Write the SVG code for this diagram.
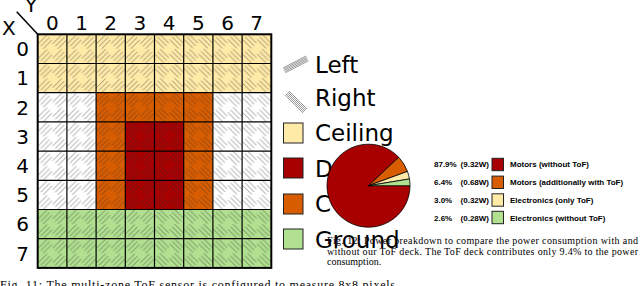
<svg xmlns="http://www.w3.org/2000/svg" width="640" height="286" viewBox="0 0 640 286">
<style>
.lab{font-family:"DejaVu Sans",sans-serif;font-size:20px;fill:#000}
.leg{font-family:"DejaVu Sans",sans-serif;font-size:23px;fill:#000}
.pl{font-family:"Liberation Sans",Arial,sans-serif;font-size:8px;font-weight:bold;fill:#000}
.cap{font-family:"Liberation Serif","Times New Roman",serif;fill:#000}
.grid{stroke:#000;stroke-width:1.2;fill:none}
.hi{stroke:#555;stroke-width:0.6}
.box{stroke:#222;stroke-width:1}
.pie{stroke:#000;stroke-width:0.8;stroke-linejoin:round}
</style>
<defs>
<pattern id="hl" patternUnits="userSpaceOnUse" x="37.7" y="34.3" width="14.6" height="14.6">
<path d="M0.5,9.5L9.5,0.5M3,12L12,3M5.5,14.5L14.5,5.5" stroke="#333" stroke-width="0.5"/>
</pattern>
<pattern id="hr" patternUnits="userSpaceOnUse" x="37.7" y="34.3" width="14.6" height="14.6">
<path d="M0.5,5.1L9.5,14.1M3,2.6L12,11.6M5.5,0.1L14.5,9.1" stroke="#333" stroke-width="0.5"/>
</pattern>
</defs>
<rect width="640" height="286" fill="#fff"/>

<g id="grid">
<rect x="37.7" y="34.3" width="233.6" height="58.4" fill="#ffeaa8"/>
<rect x="37.7" y="209.5" width="233.6" height="58.4" fill="#b0e090"/>
<rect x="96.1" y="92.7" width="116.8" height="116.8" fill="#d85c00"/>
<rect x="125.3" y="121.9" width="58.4" height="87.6" fill="#a80000"/>
<rect x="37.7" y="34.3" width="116.8" height="233.6" fill="url(#hl)"/>
<rect x="154.5" y="34.3" width="116.8" height="233.6" fill="url(#hr)"/>
<path class="grid" d="M66.9,34.3V267.9M96.1,34.3V267.9M125.3,34.3V267.9M154.5,34.3V267.9M183.7,34.3V267.9M212.9,34.3V267.9M242.1,34.3V267.9M37.7,63.5H271.3M37.7,92.7H271.3M37.7,121.9H271.3M37.7,151.1H271.3M37.7,180.3H271.3M37.7,209.5H271.3M37.7,238.7H271.3"/>
<rect x="37.7" y="34.3" width="233.6" height="233.6" fill="none" stroke="#000" stroke-width="2"/>
</g>

<g id="axes">
<line x1="16.7" y1="11.7" x2="37.7" y2="34.3" stroke="#000" stroke-width="1.5"/>
<text class="lab" x="2" y="35">X</text>
<text class="lab" x="25" y="12">Y</text>
<g text-anchor="middle">
<text class="lab" x="52.3" y="29.5">0</text>
<text class="lab" x="81.5" y="29.5">1</text>
<text class="lab" x="110.7" y="29.5">2</text>
<text class="lab" x="139.9" y="29.5">3</text>
<text class="lab" x="169.1" y="29.5">4</text>
<text class="lab" x="198.3" y="29.5">5</text>
<text class="lab" x="227.5" y="29.5">6</text>
<text class="lab" x="256.7" y="29.5">7</text>
<text class="lab" x="22.6" y="56.2">0</text>
<text class="lab" x="22.6" y="85.4">1</text>
<text class="lab" x="22.6" y="114.6">2</text>
<text class="lab" x="22.6" y="143.8">3</text>
<text class="lab" x="22.6" y="173">4</text>
<text class="lab" x="22.6" y="202.2">5</text>
<text class="lab" x="22.6" y="231.4">6</text>
<text class="lab" x="22.6" y="260.6">7</text>
</g>
</g>

<g id="legend">
<path class="hi" d="M283,68L306,56M283.6,69.2L306.6,57.2M284.2,70.4L307.2,58.4M284.8,71.6L307.8,59.6M285.4,72.8L308.4,60.8"/>
<path class="hi" d="M285,95L303,113M286,94L304,112M287,93L305,111M288,92L306,110M289,91L307,109"/>
<rect class="box" x="283.5" y="123" width="19.5" height="20" fill="#ffeaa8"/>
<rect class="box" x="283.5" y="158" width="19.5" height="20" fill="#a80000"/>
<rect class="box" x="283.5" y="194" width="19.5" height="20" fill="#d85c00"/>
<rect class="box" x="283.5" y="229" width="19.5" height="20" fill="#b0e090"/>
<text class="leg" x="315" y="73">Left</text>
<text class="leg" x="315" y="105.5">Right</text>
<text class="leg" x="315" y="141">Ceiling</text>
<text class="leg" x="315" y="176.5">D</text>
<text class="leg" x="315" y="212">C</text>
</g>

<g id="pie">
<path class="pie" fill="#a80000" d="M368.5,185.7L398.75,157.29A41.5,41.5 0 1 0 410,185.7Z"/>
<path class="pie" fill="#d85c00" d="M368.5,185.7L407.46,171.4A41.5,41.5 0 0 0 398.75,157.29Z"/>
<path class="pie" fill="#ffeaa8" d="M368.5,185.7L409.45,178.95A41.5,41.5 0 0 0 407.46,171.4Z"/>
<path class="pie" fill="#b0e090" d="M368.5,185.7L410,185.7A41.5,41.5 0 0 0 409.45,178.95Z"/>
</g>

<g id="pie-legend">
<rect class="box" x="492" y="158.3" width="11.5" height="12.4" fill="#a80000"/>
<rect class="box" x="492" y="176.1" width="11.5" height="12.4" fill="#d85c00"/>
<rect class="box" x="492" y="193.8" width="11.5" height="12.4" fill="#ffeaa8"/>
<rect class="box" x="492" y="211.3" width="11.5" height="12.4" fill="#b0e090"/>
<text class="pl" x="434" y="167.4">87.9%</text>
<text class="pl" x="434" y="185.2">6.4%</text>
<text class="pl" x="434" y="202.9">3.0%</text>
<text class="pl" x="434" y="220.6">2.6%</text>
<g text-anchor="end">
<text class="pl" x="489" y="167.4">(9.32W)</text>
<text class="pl" x="489" y="185.2">(0.68W)</text>
<text class="pl" x="489" y="202.9">(0.32W)</text>
<text class="pl" x="489" y="220.6">(0.28W)</text>
</g>
<text class="pl" x="510" y="167.4">Motors (without ToF)</text>
<text class="pl" x="510" y="185.2">Motors (additionally with ToF)</text>
<text class="pl" x="510" y="202.9">Electronics (only ToF)</text>
<text class="pl" x="510" y="220.6">Electronics (without ToF)</text>
</g>

<g id="captions">
<text class="cap" font-size="10" x="327" y="244" textLength="311" lengthAdjust="spacing">Fig. 12: Power breakdown to compare the power consumption with and</text>
<text class="cap" font-size="10" x="327" y="254.5" textLength="311" lengthAdjust="spacing">without our ToF deck. The ToF deck contributes only 9.4% to the power</text>
<text class="cap" font-size="10" x="327" y="265">consumption.</text>
<text class="cap" font-size="12" x="0" y="289" textLength="395" lengthAdjust="spacing">Fig. 11: The multi-zone ToF sensor is configured to measure 8x8 pixels</text>
</g>

<text class="leg" x="315" y="247.5">Ground</text>
</svg>
